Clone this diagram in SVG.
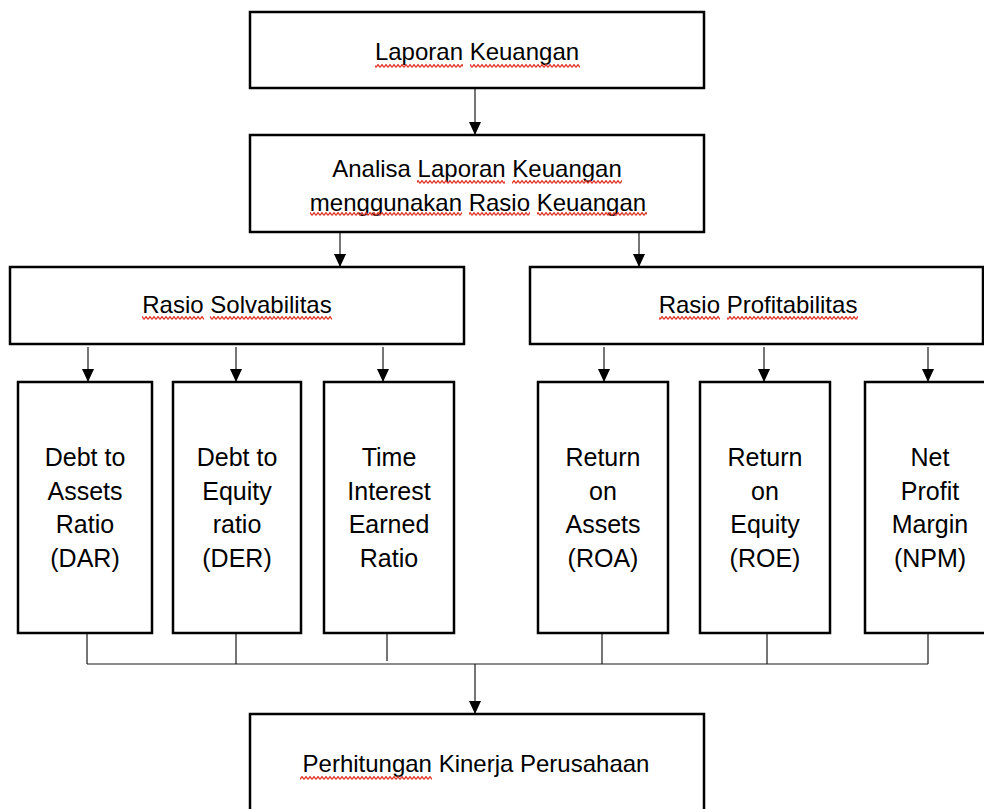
<svg xmlns="http://www.w3.org/2000/svg" width="984" height="809" viewBox="0 0 984 809">
<style>
.box{fill:#fff;stroke:#000;stroke-width:2.5}
.t{font-family:"Liberation Sans",Arial,sans-serif;font-size:24px;fill:#000;text-anchor:middle}
.s{font-size:25px}
.c{stroke:#1a1a1a;stroke-width:1.2;fill:none}
.a{marker-end:url(#ah)}
.sq{fill:url(#wave)}
</style>
<defs>
<marker id="ah" viewBox="0 0 13 12" markerWidth="13" markerHeight="12" refX="13" refY="6" orient="auto" markerUnits="userSpaceOnUse">
<path d="M0,0 L13,6 L0,12 z" fill="#000"/>
</marker>
<pattern id="wave" width="4" height="4" patternUnits="userSpaceOnUse">
<path d="M0,3.4 L2,0.6 L4,3.4" fill="none" stroke="#e0392b" stroke-width="1.3"/>
</pattern>
</defs>
<rect width="984" height="809" fill="#fff"/>
<g id="connectors">
<line class="c a" x1="475" y1="88" x2="475" y2="135"/>
<line class="c a" x1="340" y1="232" x2="340" y2="267"/>
<line class="c a" x1="639" y1="232" x2="639" y2="267"/>
<line class="c a" x1="88" y1="347" x2="88" y2="382"/>
<line class="c a" x1="236" y1="347" x2="236" y2="382"/>
<line class="c a" x1="383" y1="347" x2="383" y2="382"/>
<line class="c a" x1="604" y1="347" x2="604" y2="382"/>
<line class="c a" x1="764" y1="347" x2="764" y2="382"/>
<line class="c a" x1="928" y1="347" x2="928" y2="382"/>
<path class="c" d="M87,633 V664 M236,633 V664 M387,633 V661 M602,633 V664 M767,633 V664 M928,633 V664 M87,664 H928"/>
<line class="c a" x1="475" y1="664" x2="475" y2="714"/>
</g>
<g id="laporan">
<rect class="box" x="250" y="12" width="454" height="76"/>
<text class="t" x="477" y="60">Laporan Keuangan</text>
<rect class="sq" x="375" y="64" width="88" height="4"/>
<rect class="sq" x="470" y="64" width="110" height="4"/>
</g>
<g id="analisa">
<rect class="box" x="250" y="135" width="454" height="97"/>
<text class="t" x="477" y="177">Analisa Laporan Keuangan</text>
<text class="t" x="478" y="211">menggunakan Rasio Keuangan</text>
<rect class="sq" x="417" y="180" width="88" height="4"/>
<rect class="sq" x="512" y="180" width="110" height="4"/>
<rect class="sq" x="310" y="212" width="152" height="4"/>
<rect class="sq" x="469" y="212" width="61" height="4"/>
<rect class="sq" x="537" y="212" width="110" height="4"/>
</g>
<g id="solvabilitas">
<rect class="box" x="10" y="267" width="454" height="77"/>
<text class="t" x="237" y="313">Rasio Solvabilitas</text>
<rect class="sq" x="142" y="316" width="62" height="4"/>
<rect class="sq" x="210" y="316" width="122" height="4"/>
</g>
<g id="profitabilitas">
<rect class="box" x="530" y="267" width="453" height="77"/>
<text class="t" x="758" y="313">Rasio Profitabilitas</text>
<rect class="sq" x="659" y="316" width="61" height="4"/>
<rect class="sq" x="727" y="316" width="131" height="4"/>
</g>
<g id="dar">
<rect class="box" x="18" y="382" width="134" height="251"/>
<text class="t s" x="85"><tspan x="85" y="466">Debt to</tspan><tspan x="85" y="500">Assets</tspan><tspan x="85" y="533">Ratio</tspan><tspan x="85" y="567">(DAR)</tspan></text>
</g>
<g id="der">
<rect class="box" x="173" y="382" width="128" height="251"/>
<text class="t s" x="237"><tspan x="237" y="466">Debt to</tspan><tspan x="237" y="500">Equity</tspan><tspan x="237" y="533">ratio</tspan><tspan x="237" y="567">(DER)</tspan></text>
</g>
<g id="tie">
<rect class="box" x="324" y="382" width="130" height="251"/>
<text class="t s" x="389"><tspan x="389" y="466">Time</tspan><tspan x="389" y="500">Interest</tspan><tspan x="389" y="533">Earned</tspan><tspan x="389" y="567">Ratio</tspan></text>
</g>
<g id="roa">
<rect class="box" x="538" y="382" width="130" height="251"/>
<text class="t s" x="603"><tspan x="603" y="466">Return</tspan><tspan x="603" y="500">on</tspan><tspan x="603" y="533">Assets</tspan><tspan x="603" y="567">(ROA)</tspan></text>
</g>
<g id="roe">
<rect class="box" x="700" y="382" width="130" height="251"/>
<text class="t s" x="765"><tspan x="765" y="466">Return</tspan><tspan x="765" y="500">on</tspan><tspan x="765" y="533">Equity</tspan><tspan x="765" y="567">(ROE)</tspan></text>
</g>
<g id="npm">
<rect class="box" x="865" y="382" width="129" height="251"/>
<text class="t s" x="930"><tspan x="930" y="466">Net</tspan><tspan x="930" y="500">Profit</tspan><tspan x="930" y="533">Margin</tspan><tspan x="930" y="567">(NPM)</tspan></text>
</g>
<g id="kinerja">
<rect class="box" x="250" y="714" width="454" height="120"/>
<text class="t" x="476" y="772">Perhitungan Kinerja Perusahaan</text>
<rect class="sq" x="300" y="776" width="132" height="4"/>
</g>
</svg>
